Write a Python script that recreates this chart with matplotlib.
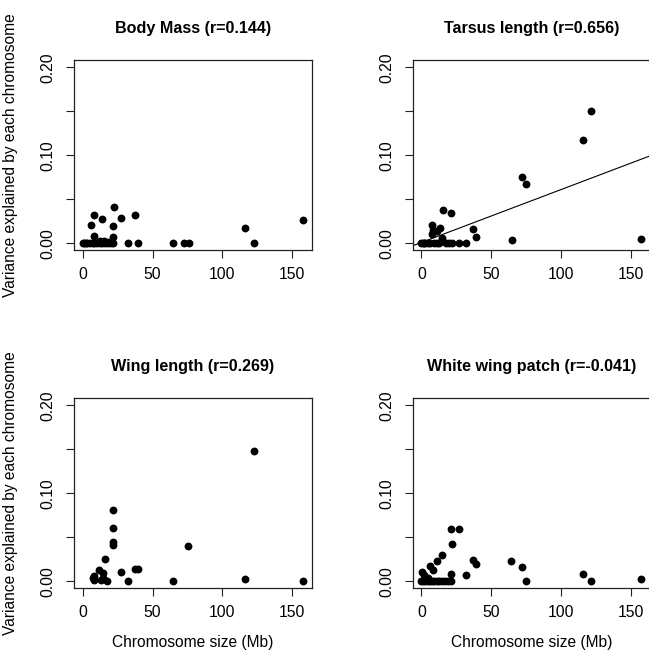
import numpy as np
import matplotlib
matplotlib.use("Agg")
import matplotlib.pyplot as plt

plt.rcParams['font.family'] = ['Liberation Sans', 'DejaVu Sans']

# chromosome size (Mb) and variance explained, one pair of lists per trait
mass_x = [0, 1, 2, 3, 5, 7, 8, 10, 12, 14, 16, 18, 20, 22,
          5.7, 8.1, 13.6, 22.1, 21.6, 27.1, 37.6, 7.8, 21.9, 12, 15, 18,
          32.3, 39.7, 64.9, 72.3, 75.8, 116.5, 122.4, 158.1]
mass_y = [0, 0, 0, 0, 0, 0, 0, 0, 0, 0, 0, 0, 0, 0,
          0.0208, 0.0318, 0.028, 0.0416, 0.0197, 0.0287, 0.0318, 0.0079, 0.0068, 0.003, 0.003, 0.002,
          0, 0.0008, 0, 0, 0, 0.017, 0, 0.0268]

tarsus_x = [0, 1, 2, 3, 5, 6, 9, 11, 13, 18, 20, 22, 27, 32,
            7.6, 8.1, 7.6, 11.6, 13.3, 14.7, 15.7, 21.1, 37.0, 39.4,
            64.8, 72.2, 75.2, 116.1, 122.0, 157.6]
tarsus_y = [0, 0, 0, 0, 0, 0, 0, 0, 0, 0, 0, 0, 0, 0,
            0.0212, 0.0147, 0.011, 0.014, 0.017, 0.0064, 0.0382, 0.034, 0.0159, 0.0076,
            0.0038, 0.0752, 0.0677, 0.117, 0.150, 0.0049]

wing_x = [7.6, 7.8, 8.0, 11.9, 12.8, 14.7, 14.5, 15.9, 17.6, 21.9, 21.6, 22.0, 21.8,
          27.1, 32.1, 37.3, 39.7, 64.9, 75.6, 116.5, 122.4, 158.0]
wing_y = [0.004, 0.0055, 0.002, 0.0128, 0.0015, 0.009, 0.004, 0.025, 0.0007, 0.081, 0.060, 0.045, 0.041,
          0.010, 0, 0.0143, 0.0143, 0, 0.0397, 0.003, 0.148, 0]

patch_x = [0, 1.5, 3, 4.5, 6, 7.5, 9, 11, 13, 15, 17, 19, 21,
           21.6, 26.8, 21.8, 15.0, 11.6, 6.4, 8.1, 0.2, 2.1, 5.0, 21.4, 32.0,
           37.0, 39.4, 64.6, 72.2, 75.2, 116.1, 122.0, 157.6]
patch_y = [0, 0, 0, 0, 0, 0, 0, 0, 0, 0, 0, 0, 0,
           0.0597, 0.0597, 0.042, 0.030, 0.023, 0.017, 0.0129, 0.011, 0.0072, 0.004, 0.0079, 0.0068,
           0.0242, 0.0193, 0.023, 0.0159, 0, 0.0079, 0, 0.003]

titles = ["Body Mass (r=0.144)", "Tarsus length (r=0.656)",
          "Wing length (r=0.269)", "White wing patch (r=-0.041)"]
xlab = "Chromosome size (Mb)"
ylab = "Variance explained by each chromosome"

W, H = 649, 655
fig = plt.figure(figsize=(W / 100, H / 100), dpi=100)

# panel boxes in pixels: left, top (right column runs just past the edge)
boxes = [(74, 60.3), (412.5, 60.3), (74, 398.3), (412.5, 398.3)]
bw, bh = 238, 190

panels = [(mass_x, mass_y), (tarsus_x, tarsus_y), (wing_x, wing_y), (patch_x, patch_y)]

for i, ((px, py), title) in enumerate(zip(panels, titles)):
    left, top = boxes[i]
    ax = fig.add_axes([left / W, 1 - (top + bh) / H, bw / W, bh / H])
    ax.scatter(px, py, s=32, color='black', linewidths=0, zorder=3)
    if i == 1:
        slope, icpt = np.polyfit(px, py, 1)
        ax.axline((0, icpt), slope=slope, color='black', lw=0.8)
    # R style 4% padding around data range
    ax.set_xlim(-0.04 * 158, 158 * 1.04)
    ax.set_ylim(-0.008, 0.208)
    ax.set_xticks([0, 50, 100, 150])
    ax.set_yticks([0, 0.05, 0.10, 0.15, 0.20])
    ax.set_yticklabels(["0.00", "", "0.10", "", "0.20"], rotation=90, va='center')
    ax.tick_params(direction='out', length=5.8, width=0.8, labelsize=11.3, color='#222222')
    ax.tick_params(axis='x', pad=6)
    ax.tick_params(axis='y', pad=7.5)
    for sp in ax.spines.values():
        sp.set_linewidth(0.9)
        sp.set_color('#222222')
    ax.text(0.5, 1 + 32 / bh, title, transform=ax.transAxes, ha='center', va='center',
            fontsize=11.6, fontweight='bold')
    if i >= 2:
        ax.text(0.5, -54 / bh, xlab, transform=ax.transAxes, ha='center', va='center', fontsize=11.2)
    if i % 2 == 0:
        fig.text(11 / W, 1 - (top + bh / 2) / H, ylab, rotation=90, ha='center', va='center', fontsize=11.2)

fig.savefig("out.png", dpi=100)
